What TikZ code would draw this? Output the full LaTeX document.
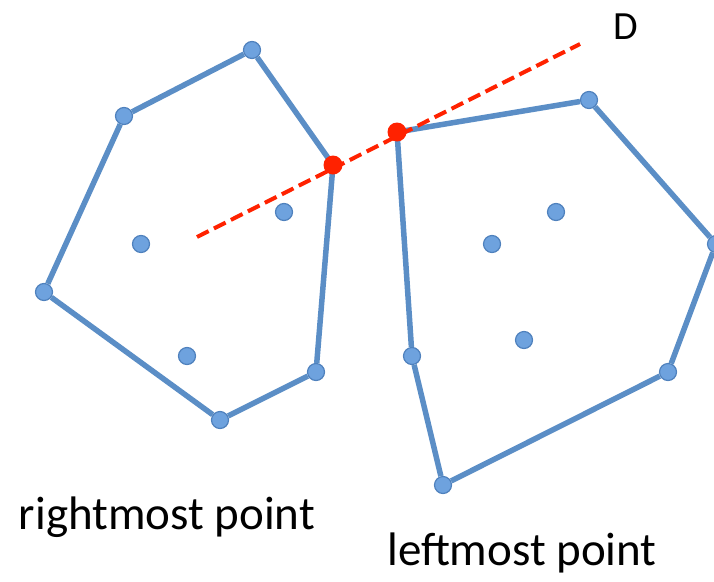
\documentclass[tikz,border=0pt]{standalone}
\usepackage{fontspec}
\setmainfont{Carlito}
\definecolor{hullblue}{RGB}{91,142,198}
\definecolor{ptfill}{RGB}{110,162,222}
\definecolor{ptedge}{RGB}{79,129,189}
\definecolor{tanred}{RGB}{255,34,0}
\begin{document}
\begin{tikzpicture}[x=1pt,y=-1pt,
  hull/.style={draw=hullblue, line width=5.5pt},
  pt/.style={circle, minimum size=17pt, inner sep=0pt, fill=ptfill, draw=ptedge, line width=1.2pt},
  tan/.style={circle, minimum size=19pt, inner sep=0pt, fill=tanred},
  lbl/.style={font=\fontsize{47}{56}\selectfont, inner sep=0pt}]
\useasboundingbox (0,0) rectangle (714,581);
% left hull points
\node[pt] (l1) at (252,50) {};
\node[pt] (l2) at (124,116) {};
\node[pt] (l3) at (44,292) {};
\node[pt] (l4) at (220,420) {};
\node[pt] (l5) at (316,372) {};
\coordinate (l6) at (333,165);
\node[pt] (li1) at (141,244) {};
\node[pt] (li2) at (187,356) {};
\node[pt] (li3) at (284,212) {};
% right hull points
\coordinate (r1) at (397,132);
\node[pt] (r2) at (589,100) {};
\node[pt] (r3) at (716,244) {};
\node[pt] (r4) at (668,372) {};
\node[pt] (r5) at (443,485) {};
\node[pt] (r6) at (412,356) {};
\node[pt] (ri1) at (492,244) {};
\node[pt] (ri2) at (556,212) {};
\node[pt] (ri3) at (524,340) {};
% edges
\draw[hull] (l1) -- (l2);
\draw[hull] (l2) -- (l3);
\draw[hull] (l3) -- (l4);
\draw[hull] (l4) -- (l5);
\draw[hull] (l5) -- (l6);
\draw[hull] (l6) -- (l1);
\draw[hull] (r1) -- (r2);
\draw[hull] (r2) -- (r3);
\draw[hull] (r3) -- (r4);
\draw[hull] (r4) -- (r5);
\draw[hull] (r5) -- (r6);
\draw[hull] (r6) -- (r1);
% dashed line D
\coordinate (d0) at (197,237);
\coordinate (d1) at (580,44);
\draw[draw=tanred, line width=4pt, dash pattern=on 13pt off 6pt] (d0) -- (d1);
\node[tan] (t1) at (l6) {};
\node[tan] (t2) at (r1) {};
\node[lbl, font=\fontsize{40}{48}\selectfont] (D) at (626,27) {D};
\node[lbl] (rm) at (167,517) {rightmost point};
\node[lbl] (lm) at (522,553) {leftmost point};
\end{tikzpicture}
\end{document}
